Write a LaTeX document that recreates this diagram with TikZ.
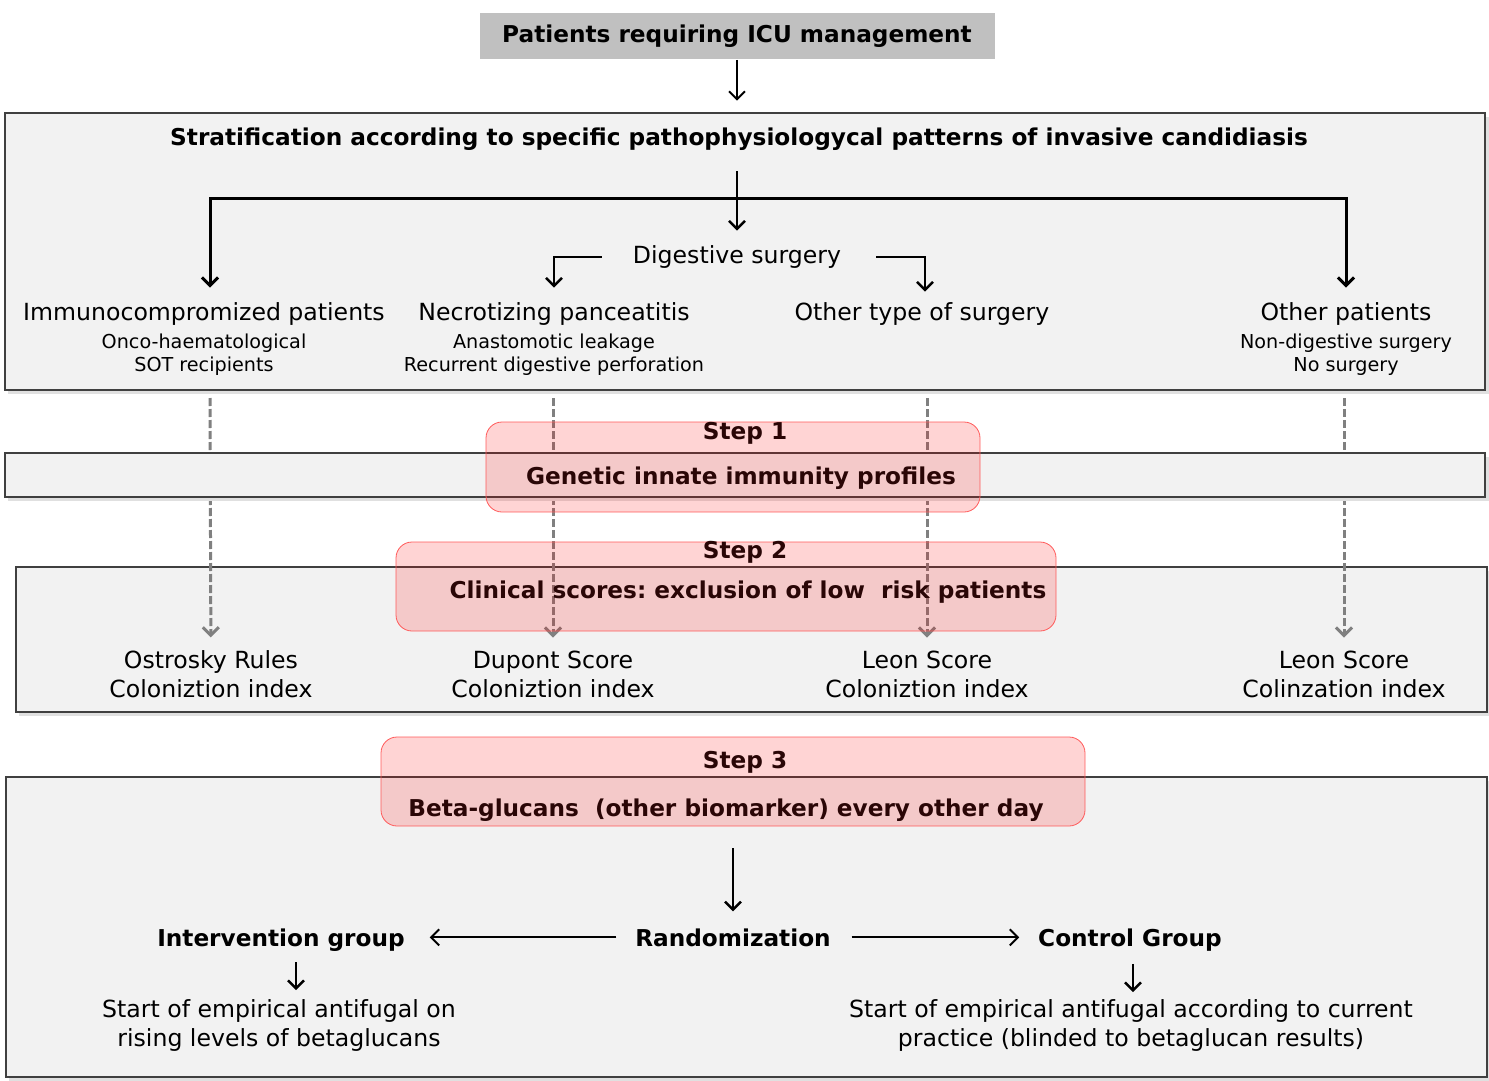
\documentclass[tikz,border=0pt]{standalone}
\usepackage{fontspec}
\setmainfont{DejaVu Sans}
\usetikzlibrary{arrows.meta, positioning}
\frenchspacing

\definecolor{panelfill}{HTML}{F2F2F2}
\definecolor{paneldraw}{HTML}{404040}
\definecolor{topfill}{HTML}{C0C0C0}
\definecolor{stepdraw}{HTML}{FF5A5A}
\definecolor{steptext}{HTML}{2A0606}

\begin{document}
\begin{tikzpicture}[
            x = 0.5pt, y = -0.5pt, % one unit per pixel, y pointing down
            > = {Straight Barb[length=4pt,width=8pt]}, % arrow head style
            line width = 1pt, % line style
        ]

        \tikzstyle{panel}=[draw = paneldraw, fill = panelfill, thick]
        \tikzstyle{shadowbox}=[fill = black!12]
        \tikzstyle{stepbox}=[draw = stepdraw, thin, fill = red, fill opacity = 0.17, rounded corners = 8pt]
        \tikzstyle{head}=[font = \bfseries\fontsize{11.6}{14}\selectfont, inner sep = 1pt]
        \tikzstyle{stephead}=[head, text = steptext]
        \tikzstyle{maintxt}=[font = \fontsize{11.8}{14.5}\selectfont, align = center, inner sep = 1pt]
        \tikzstyle{subtxt}=[font = \fontsize{9.6}{11.5}\selectfont, align = center, inner sep = 1pt]
        \tikzstyle{dashedarrow}=[->, draw = gray, line width = 1.5pt, dash pattern = on 4pt off 1.5pt]

        \useasboundingbox (0,0) rectangle (1489,1081);

        % panels that lie under the dashed arrows
        \fill[shadowbox] (8,117) rectangle (1489,394);
        \draw[panel] (5,113) rectangle (1485,390);
        \fill[shadowbox] (19,571) rectangle (1489,716);
        \draw[panel] (16,567) rectangle (1487,712);
        \fill[shadowbox] (9,781) rectangle (1489,1081);
        \draw[panel] (6,777) rectangle (1487,1077);

        \node[head, fill = topfill, minimum width = 257.5pt, minimum height = 23pt] (icu) at (737,36) {Patients requiring ICU management};
        \node[head] (strat) at (739,139) {Stratification according to specific pathophysiologycal patterns of invasive candidiasis};
        \draw[->, shorten > = 12pt] (icu) -- (icu |- strat.north);

        \node[maintxt] (dig) at (737,257) {Digestive surgery};
        \node[maintxt] (immuno) at (204,314) {Immunocompromized patients};
        \node[subtxt, below = 1pt of immuno] (immunosub) {Onco-haematological\\SOT recipients};
        \node[maintxt] (necro) at (554,314) {Necrotizing panceatitis};
        \node[subtxt, below = 1pt of necro] (necrosub) {Anastomotic leakage\\Recurrent digestive perforation};
        \node[maintxt] (othersurg) at (922,314) {Other type of surgery};
        \node[maintxt] (other) at (1346,314) {Other patients};
        \node[subtxt, below = 1pt of other] (othersub) {Non-digestive surgery\\No surgery};

        \coordinate (hub) at (737,198);
        \draw[->, line width = 1.2pt, shorten < = 9pt, shorten > = 6pt] (dig |- strat.south) -- (dig);
        \draw[->, line width = 1.5pt, shorten > = 6pt] (hub) -| ([xshift = 3pt]immuno.north);
        \draw[->, line width = 1.5pt, shorten > = 6pt] (hub) -| (other);
        \draw[->, line width = 1.2pt, shorten < = 14pt, shorten > = 6pt] (dig.west) -| (necro);
        \draw[->, line width = 1.2pt, shorten < = 16pt, shorten > = 4pt] (dig.east) -| ([xshift = 1.5pt]othersurg.north);

        % scores
        \node[maintxt] (ostrosky) at (211,674) {Ostrosky Rules\\Coloniztion index};
        \node[maintxt] (dupont) at (553,674) {Dupont Score\\Coloniztion index};
        \node[maintxt] (leon) at (927,674) {Leon Score\\Coloniztion index};
        \node[maintxt] (leonb) at (1344,674) {Leon Score\\Colinzation index};

        \coordinate (c1) at (210,398);
        \coordinate (c2) at (553,398);
        \coordinate (c3) at (927,398);
        \coordinate (c4) at (1344,398);
        \draw[dashedarrow, shorten > = 5pt] (c1) -- (ostrosky);
        \draw[dashedarrow, shorten > = 5pt] (c2) -- (dupont);
        \draw[dashedarrow, shorten > = 5pt] (c3) -- (leon);
        \draw[dashedarrow, shorten > = 5pt] (c4) -- (leonb);

        % panel on top of the dashed arrows
        \fill[shadowbox] (8,457) rectangle (1489,501);
        \draw[panel] (5,453) rectangle (1485,497);

        % steps
        \draw[stepbox] (486,422) rectangle (980,512);
        \node[stephead] (step1) at (745,433) {Step 1};
        \node[stephead] (genetic) at (741,478) {Genetic innate immunity profiles};

        \draw[stepbox] (396,542) rectangle (1056,631);
        \node[stephead] (step2) at (745,552) {Step 2};
        \node[stephead] (clinical) at (748,592) {Clinical scores: exclusion of low\ \ risk patients};

        \draw[stepbox] (381,737) rectangle (1085,826);
        \node[stephead] (step3) at (745,762) {Step 3};
        \node[stephead] (beta) at (726,810) {Beta-glucans\ \ (other biomarker) every other day};

        % randomization
        \node[head, anchor = base] (random) at (733,946) {Randomization};
        \node[head, anchor = base] (interv) at (281,946) {Intervention group};
        \node[head, anchor = base] (control) at (1130,946) {Control Group};
        \draw[->, line width = 1.2pt, shorten < = 12pt, shorten > = 7pt] (random |- beta.south) -- (random);
        \draw[->, shorten < = 8pt, shorten > = 11pt] (random.west) -- (random.west -| interv.east);
        \draw[->, shorten < = 9pt, shorten > = 8pt] (random.east) -- (random.east -| control.west);

        \node[maintxt] (intervtxt) at (279,1025) {Start of empirical antifugal on\\rising levels of betaglucans};
        \node[maintxt] (controltxt) at (1131,1025) {Start of empirical antifugal according to current\\practice (blinded to betaglucan results)};
        \draw[->, line width = 1.2pt, shorten < = 4pt, shorten > = 3pt] ([xshift = 7.5pt]interv.south) -- ([xshift = 7.5pt]interv.south |- intervtxt.north);
        \draw[->, line width = 1.2pt, shorten < = 5pt, shorten > = 2pt] ([xshift = 1.5pt]control.south) -- ([xshift = 1.5pt]control.south |- controltxt.north);
    \end{tikzpicture}
\end{document}
